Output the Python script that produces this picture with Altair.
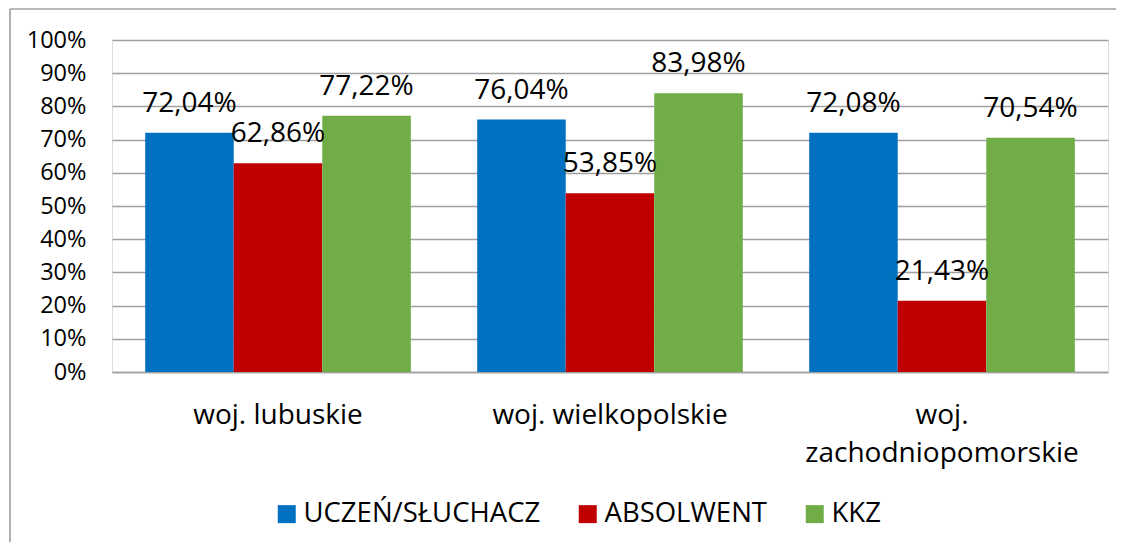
import altair as alt
import pandas as pd

categories = ["woj. lubuskie", "woj. wielkopolskie", "woj. zachodniopomorskie"]
series = ["UCZEŃ/SŁUCHACZ", "ABSOLWENT", "KKZ"]
uczen = [72.04, 76.04, 72.08]
absolwent = [62.86, 53.85, 21.43]
kkz = [77.22, 83.98, 70.54]
colors = ["#0070C0", "#C00000", "#70AD47"]

rows = []
for i, c in enumerate(categories):
    for s, vals in zip(series, [uczen, absolwent, kkz]):
        rows.append({"cat": c, "series": s, "value": vals[i]})
df = pd.DataFrame(rows)

FONT = "Open Sans"

x = alt.X("cat:N", sort=categories, title=None,
          scale=alt.Scale(paddingInner=0.2, paddingOuter=0.1),
          axis=alt.Axis(labelAngle=0, ticks=False, labelPadding=29, labelLimit=0,
                        labelFontSize=28, labelColor="#000000", labelFont=FONT,
                        labelBaseline="top", labelLineHeight=38,
                        labelExpr="datum.label == 'woj. zachodniopomorskie' ? ['woj.', 'zachodniopomorskie'] : datum.label",
                        domainColor="#A0A0A0", domainWidth=1.5, grid=False))
xo = alt.XOffset("series:N", sort=series, scale=alt.Scale(paddingInner=0, paddingOuter=0))
y = alt.Y("value:Q", title=None,
          scale=alt.Scale(domain=[0, 100], nice=False),
          axis=alt.Axis(values=list(range(0, 101, 10)), labelExpr="datum.value + '%'",
                        ticks=False, domain=False, labelPadding=26,
                        labelFontSize=23.5, labelColor="#000000", labelFont=FONT,
                        gridColor="#A0A0A0", gridWidth=1.3,
                        minExtent=104, maxExtent=104))
color = alt.Color("series:N", sort=series,
                  scale=alt.Scale(domain=series, range=colors),
                  legend=alt.Legend(title=None, orient="none", direction="horizontal",
                                    legendX=161, legendY=460, symbolType="square",
                                    symbolSize=324, symbolStrokeWidth=0, labelLimit=0,
                                    labelFontSize=27.5, labelFont=FONT, labelColor="#000000",
                                    labelOffset=3, columnPadding=33, padding=0))

base = alt.Chart(df)
bars = base.mark_bar().encode(x=x, xOffset=xo, y=y, color=color)
labels = base.transform_calculate(
    lbl="replace(format(datum.value, '.2f'), '.', ',') + '%'"
).mark_text(baseline="alphabetic", dy=-21, fontSize=28, font=FONT, color="#000000").encode(
    x=x, xOffset=xo, y=y, text="lbl:N")

frame_data = alt.Data(values=[{"a": 1}])
left_rule = alt.Chart(frame_data).mark_rule(color="#B0B0B0", strokeWidth=2).encode(
    x=alt.value(-102), y=alt.value(-31), y2=alt.value(502))
top_rule = alt.Chart(frame_data).mark_rule(color="#A0A0A0", strokeWidth=1.5).encode(
    x=alt.value(-102), x2=alt.value(1004), y=alt.value(-31))

chart = alt.layer(bars, labels, left_rule, top_rule).properties(
    width=996, height=332, padding=0
).configure_view(stroke=None).configure(background="#FFFFFF")

chart.save("out.html", embed_options={"renderer": "svg", "actions": False})
